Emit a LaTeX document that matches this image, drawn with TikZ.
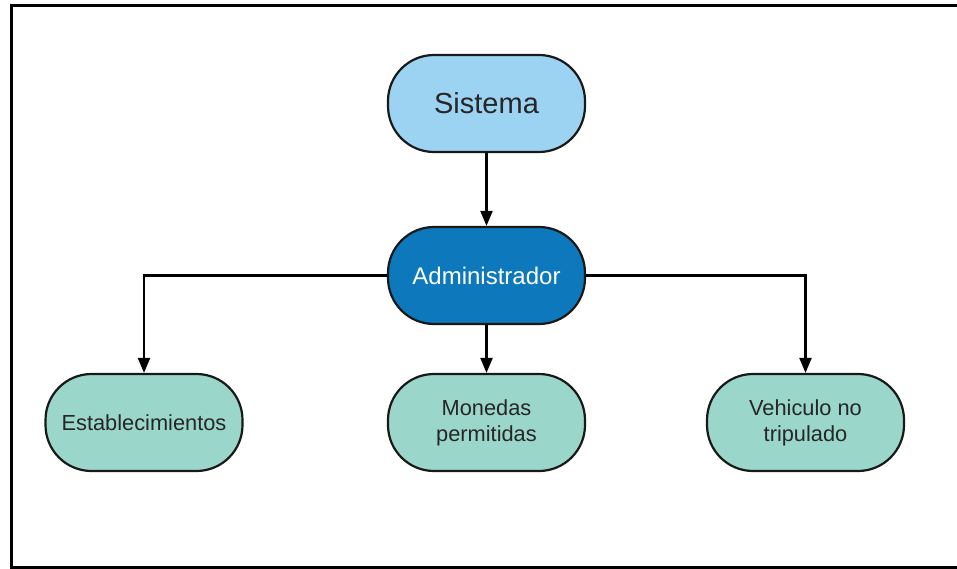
\documentclass[tikz,border=0pt]{standalone}
\usepackage{fontspec}
\setmainfont{Liberation Sans}
\usetikzlibrary{arrows.meta}
\definecolor{topblue}{HTML}{9DD3F2}
\definecolor{admblue}{HTML}{0D78BC}
\definecolor{leafgreen}{HTML}{9AD6CA}
\tikzset{
  box/.style={draw=black!90, line width=2.2pt, rounded corners=46pt, minimum width=197pt, minimum height=97pt, align=center, inner sep=0pt},
  leaf/.style={box, fill=leafgreen, text=black!85, font=\fontsize{21.8}{26}\selectfont},
  conn/.style={line width=2.2pt, black, -{Triangle[length=15pt,width=12pt]}}
}
\begin{document}
\begin{tikzpicture}[x=1pt,y=-1pt]
\useasboundingbox (0,0) rectangle (957,569);
\clip (0,0) rectangle (957,569);
\draw[line width=3pt, black] (11,6) rectangle (970,567);
\node[box, fill=topblue, text=black!85, font=\fontsize{29}{34}\selectfont] (sis) at (486.5,103.5) {Sistema};
\node[box, fill=admblue, text=white, font=\fontsize{24}{28}\selectfont] (adm) at (486.5,275.5) {Administrador};
\node[leaf] (est) at (144,422.5) {Establecimientos};
\node[leaf] (mon) at (486.5,422.5) {Monedas\\permitidas};
\node[leaf] (veh) at (805.5,422.5) {Vehiculo no\\tripulado};
\draw[conn] (sis) -- (adm);
\draw[conn] (adm) -- (mon);
\draw[conn] (adm.west) -| (est.north);
\draw[conn] (adm.east) -| (veh.north);
\end{tikzpicture}
\end{document}
